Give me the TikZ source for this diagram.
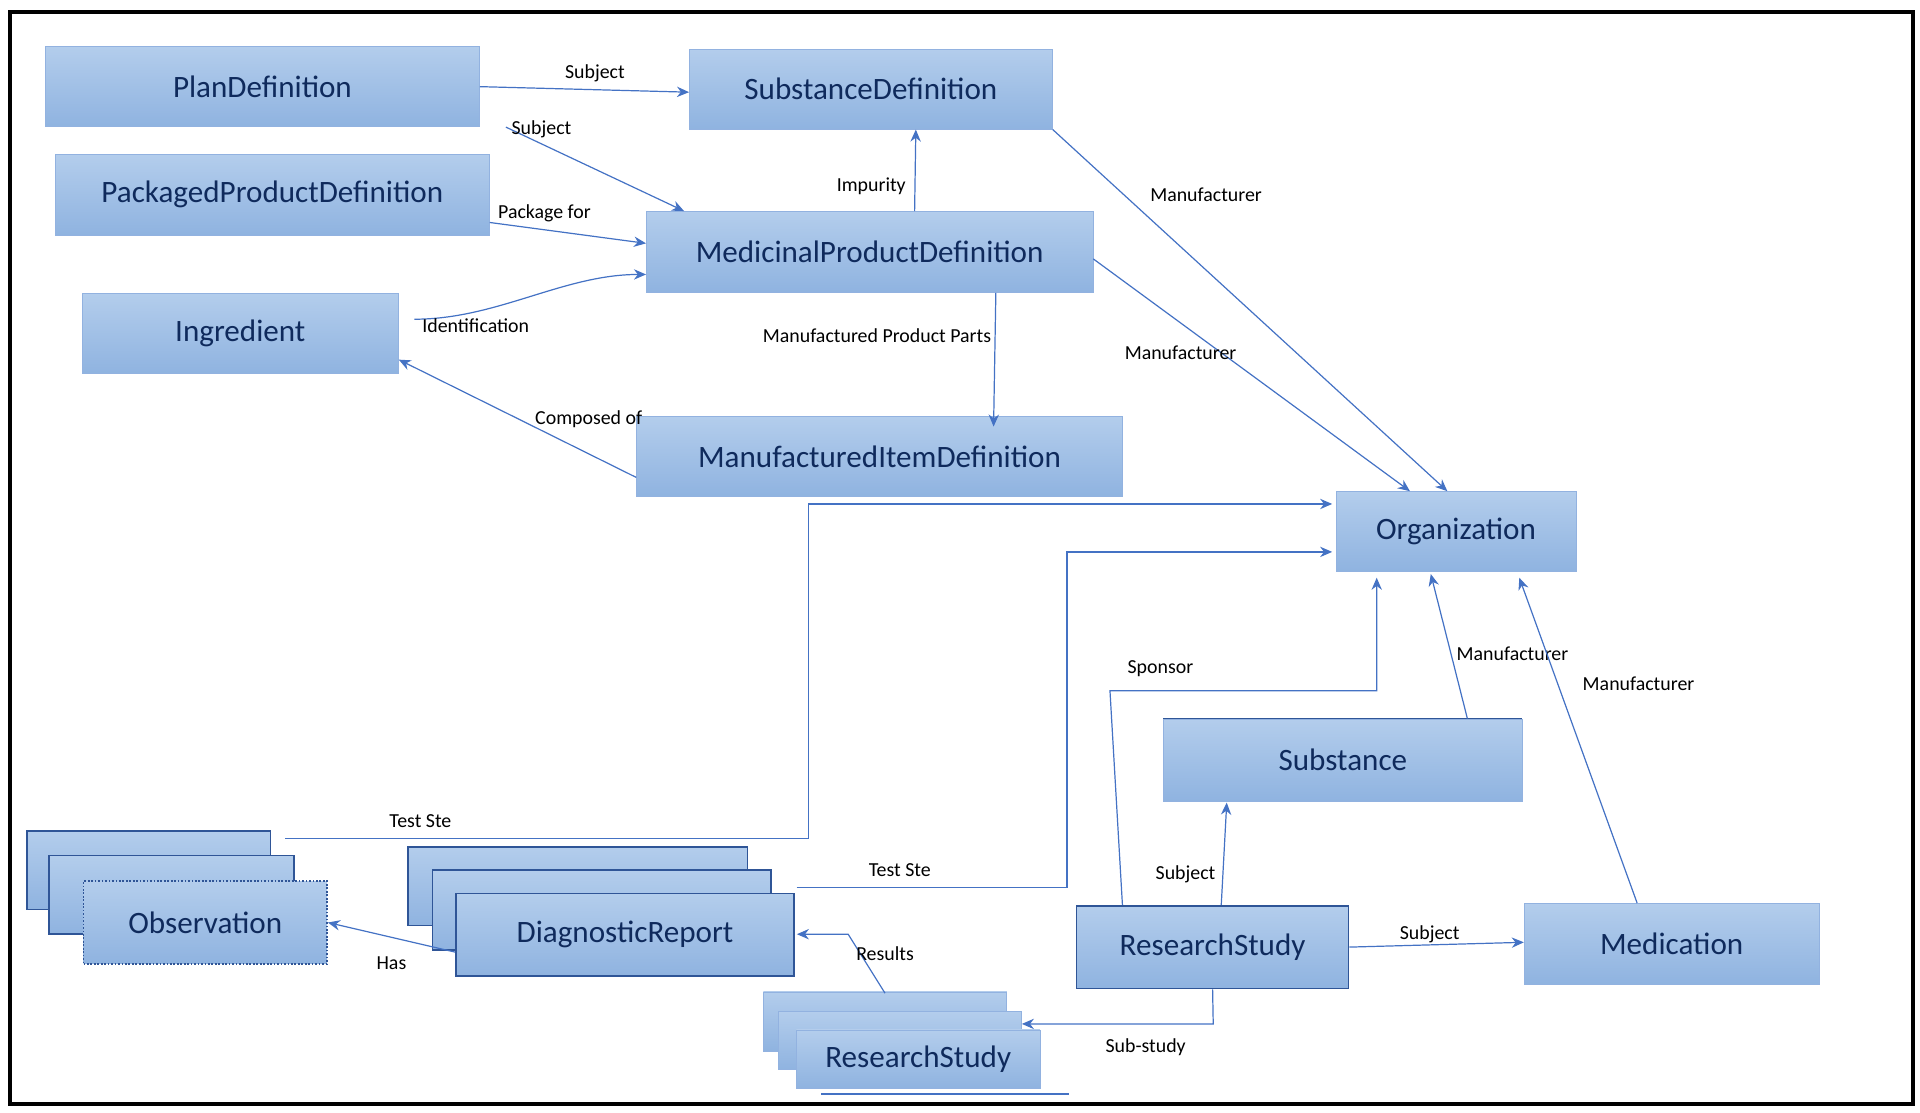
\documentclass[tikz,border=0pt]{standalone}
\usepackage{fontspec}
\setmainfont{Carlito}
\usetikzlibrary{arrows.meta,positioning}
\definecolor{linkblue}{HTML}{4472C4}
\definecolor{boxtop}{HTML}{B3CDEC}
\definecolor{boxbot}{HTML}{8FB3E0}
\definecolor{boxtext}{HTML}{0F2A5C}
\definecolor{boxedge}{HTML}{2F5597}
\tikzset{
  box/.style={draw=boxtop!70!linkblue, top color=boxtop, bottom color=boxbot, text=boxtext,
    inner sep=0pt, font=\fontsize{18}{20}\selectfont},
  darkbox/.style={box, draw=boxedge, line width=1pt},
  link/.style={draw=linkblue, line width=0.7pt, -{Stealth[length=7pt,width=6pt]}},
  plain/.style={draw=linkblue, line width=0.7pt},
  lbl/.style={font=\fontsize{11.5}{13}\selectfont, text=black, inner sep=1pt}
}
\begin{document}
\begin{tikzpicture}[x=0.025cm,y=-0.025cm]
\useasboundingbox (0,0) rectangle (1562,905);
\draw[line width=2.2pt] (8,10) rectangle (1556,898);

% main boxes
\node[box, minimum width=8.83cm, minimum height=1.63cm] (plan) at (213.5,70.5) {PlanDefinition};
\node[box, minimum width=7.38cm, minimum height=1.63cm] (subdef) at (708.5,72.5) {SubstanceDefinition};
\node[box, minimum width=8.83cm, minimum height=1.63cm] (pack) at (221.5,158.5) {PackagedProductDefinition};
\node[box, minimum width=9.08cm, minimum height=1.65cm] (med) at (707.5,205) {MedicinalProductDefinition};
\node[box, minimum width=6.43cm, minimum height=1.63cm] (ingr) at (195.5,271.5) {Ingredient};
\node[box, minimum width=9.88cm, minimum height=1.63cm] (item) at (715.5,371.5) {ManufacturedItemDefinition};
\node[box, minimum width=4.88cm, minimum height=1.63cm] (org) at (1184.5,432.5) {Organization};
\node[darkbox, draw=boxtop!70!linkblue, line width=0.5pt, minimum width=7.28cm, minimum height=1.68cm] (subst) at (1092.5,618.5) {Substance};
\draw[boxedge, line width=1pt] (subst.north west) -- (subst.north east);
\node[darkbox, minimum width=5.53cm, minimum height=1.68cm] (study) at (986.5,770.5) {ResearchStudy};
\node[box, minimum width=6.0cm, minimum height=1.65cm] (medic) at (1360,768) {Medication};

% stacked boxes
\node[darkbox, minimum width=4.95cm, minimum height=1.6cm] (obsA) at (121,708) {};
\node[darkbox, minimum width=4.98cm, minimum height=1.6cm] (obsB) at (139.5,728) {};
\node[darkbox, densely dotted, minimum width=4.95cm, minimum height=1.68cm] (obs) at (167,750.5) {Observation};
\node[darkbox, minimum width=6.9cm, minimum height=1.6cm] (diagA) at (470,721) {};
\node[darkbox, minimum width=6.88cm, minimum height=1.63cm] (diagB) at (489.5,740.5) {};
\node[darkbox, minimum width=6.88cm, minimum height=1.68cm] (diag) at (508.5,760.5) {DiagnosticReport};
\node[box, minimum width=4.95cm, minimum height=1.2cm] (subA) at (720,831) {};
\node[box, minimum width=4.95cm, minimum height=1.18cm] (subB) at (732,846.5) {};
\node[box, minimum width=4.95cm, minimum height=1.18cm] (sub) at (747,861.5) {ResearchStudy};
\draw[plain] (668,890) -- (870,890);

% connectors
\draw[link] (plan.east) -- (subdef.west |- 0,75) node[lbl, pos=0.55, above=3pt] {Subject};
\draw[link] ([xshift=15pt]plan.south east) -- ([xshift=22pt]med.north west) node[lbl, pos=0.2, above=2pt] {Subject};
\draw[link] ([yshift=-16]pack.east) -- ([yshift=5]med.west) node[lbl, pos=0.35, above=3pt] {Package for};
\draw[link] ([xshift=9pt,yshift=-15]ingr.north east) to[out=0, in=180, looseness=0.9] ([yshift=-13]med.west);
\node[lbl] (ident) at (387,265) {Identification};
\draw[link] ([xshift=26pt]med.north) -- ([xshift=26pt]subdef.south) node[lbl, pos=0.3, left=4pt] {Impurity};
\draw[link] (subdef.south east) -- ([xshift=-5pt]org.north) node[lbl, pos=0.18, right=14pt] {Manufacturer};
\draw[link] ([yshift=-4]med.east) -- ([xshift=43]org.north west) node[lbl, pos=0.35, below left=2pt and -20pt] {Manufacturer};
\draw[link] ([xshift=73pt]med.south) -- ([xshift=66pt,yshift=-6pt]item.north) node[lbl, pos=0.32, left=1pt] {Manufactured Product Parts};
\draw[link] ([yshift=-12]item.west) -- ([yshift=-15]ingr.east) node[lbl, pos=0.2, above=14pt] {Composed of};
\coordinate (obsend) at (232,682);
\coordinate (diagend) at (648,722);
\draw[link] (obsend) -- (658,682) -- (658,410) -- ([xshift=-2]org.west |- 0,410);
\node[lbl] (test1) at (342,668) {Test Ste};
\draw[link] (diagend) -- (868,722) -- (868,449) -- ([xshift=-2]org.west |- 0,449);
\node[lbl] (test2) at (732,708) {Test Ste};
\draw[link] ([xshift=27]study.north west) -- (903,562) -- (1120,562) -- (1120,470);
\node[lbl] (sponsor) at (944,544) {Sponsor};
\draw[link] ([xshift=72]subst.north) -- (1164,467) node[lbl, pos=0.45, right=2pt] {Manufacturer};
\node[lbl] at (1333,556) {Manufacturer};
\draw[link] ([xshift=-20]medic.north) -- (1236,470);
\draw[link] ([xshift=5]study.north) -- (998,653) node[lbl, pos=0.3, left=3pt] {Subject};
\draw[link] (study.east) -- ([yshift=1]medic.west) node[lbl, pos=0.46, above=0pt] {Subject};
\draw[link] (study.south) -- (987,833) -- (subB.east |- 0,833);
\node[lbl] (substudy) at (932,852) {Sub-study};
\draw[link] ([yshift=-10]diag.west) -- (obs.east) node[lbl, pos=0.5, below=10pt] {Has};
\draw[link] (subA.north |- 0,808) -- (690,760) -- ([xshift=1]diag.east |- 0,760) node[lbl, pos=0.2, right=1pt, yshift=-1pt] {};
\node[lbl] (results) at (720,776) {Results};
\end{tikzpicture}
\end{document}
